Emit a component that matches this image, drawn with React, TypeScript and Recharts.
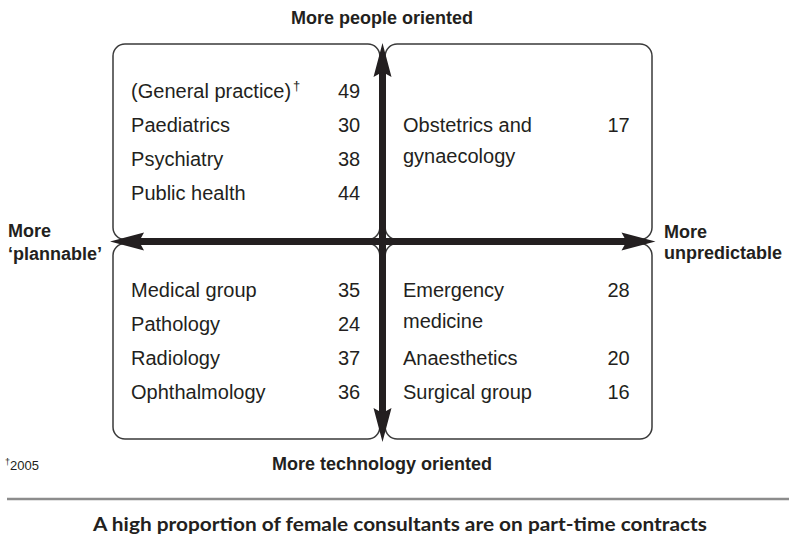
import React from "react";
import { ScatterChart, Scatter, XAxis, YAxis, ReferenceArea, ReferenceLine } from "recharts";

// Share of female consultants on part-time contracts (%), by specialty quadrant
const peoplePlannableNames = ["(General practice)†", "Paediatrics", "Psychiatry", "Public health"];
const peoplePlannableValues = [49, 30, 38, 44];
const peopleUnpredictableNames = ["Obstetrics and\ngynaecology"];
const peopleUnpredictableValues = [17];
const techPlannableNames = ["Medical group", "Pathology", "Radiology", "Ophthalmology"];
const techPlannableValues = [35, 24, 37, 36];
const techUnpredictableNames = ["Emergency\nmedicine", "Anaesthetics", "Surgical group"];
const techUnpredictableValues = [28, 20, 16];

const W = 789;
const H = 541;
const INK = "#231f20";
const SANS = "Liberation Sans";

// layout in the diagram's own units: x and y both run -1..1 across the box grid
const GAP = 0.01;
const ROW = 0.172;
const WRAP = 0.155; // wrapped lines of one label sit a bit tighter
const LABEL_X = { left: -0.933, right: 0.076 };
const NUM_X = { left: -0.083, right: 0.917 };

type Pt = { x: number; y: number; text: string };

function buildQuadrant(names: string[], values: number[], side: "left" | "right", half: "top" | "bottom") {
  const lines = names.map((n) => n.split("\n"));
  const slots = lines.reduce((s, l) => s + l.length, 0);
  const mid = half === "top" ? (1 + GAP) / 2 : -(1 + GAP) / 2;
  const labels: Pt[] = [];
  const nums: Pt[] = [];
  let slot = 0;
  lines.forEach((ls, i) => {
    const y0 = mid + ((slots - 1) / 2 - slot) * ROW;
    ls.forEach((line, j) => {
      labels.push({ x: LABEL_X[side], y: y0 - j * WRAP, text: line });
    });
    nums.push({ x: NUM_X[side], y: y0, text: String(values[i]) });
    slot += ls.length;
  });
  return { labels, nums };
}

const quadrants = [
  buildQuadrant(peoplePlannableNames, peoplePlannableValues, "left", "top"),
  buildQuadrant(peopleUnpredictableNames, peopleUnpredictableValues, "right", "top"),
  buildQuadrant(techPlannableNames, techPlannableValues, "left", "bottom"),
  buildQuadrant(techUnpredictableNames, techUnpredictableValues, "right", "bottom"),
];

const boxes = [
  { x1: -1, x2: -GAP, y1: GAP, y2: 1 },
  { x1: GAP, x2: 1, y1: GAP, y2: 1 },
  { x1: -1, x2: -GAP, y1: -1, y2: -GAP },
  { x1: GAP, x2: 1, y1: -1, y2: -GAP },
];

const LabelShape = (p: any) => {
  const t: string = p.payload.text;
  const dagger = t.endsWith("†");
  return (
    <text x={p.cx} y={p.cy} dy="0.36em" style={{ fontFamily: SANS, fontSize: 20 }} fill={INK}>
      {dagger ? t.slice(0, -1) : t}
      {dagger && (
        <tspan style={{ fontSize: 13 }} dx={2} dy={-8}>†</tspan>
      )}
    </text>
  );
};

const NumShape = (p: any) => (
  <text x={p.cx} y={p.cy} dy="0.36em" textAnchor="end" style={{ fontFamily: SANS, fontSize: 20 }} fill={INK}>
    {p.payload.text}
  </text>
);

const BoxShape = (p: any) => (
  <rect x={p.x} y={p.y} width={p.width} height={p.height} rx={12} ry={12} fill="none" stroke="#3a3a3a" strokeWidth={1.5} />
);

const Arrow = (p: any) => {
  const { x1, y1, x2, y2 } = p;
  const len = Math.hypot(x2 - x1, y2 - y1);
  const ux = (x2 - x1) / len;
  const uy = (y2 - y1) / len;
  const nx = -uy;
  const ny = ux;
  const L = 34, HW = 9, BACK = 5;
  const head = (tx: number, ty: number, s: number) => {
    const bx = tx - s * ux * L, by = ty - s * uy * L;
    const cx = tx - s * ux * (L - BACK), cy = ty - s * uy * (L - BACK);
    return `${tx},${ty} ${bx + nx * HW},${by + ny * HW} ${cx},${cy} ${bx - nx * HW},${by - ny * HW}`;
  };
  return (
    <g>
      <line
        x1={x1 + ux * (L - BACK - 1)}
        y1={y1 + uy * (L - BACK - 1)}
        x2={x2 - ux * (L - BACK - 1)}
        y2={y2 - uy * (L - BACK - 1)}
        stroke={INK}
        strokeWidth={7}
      />
      <polygon points={head(x2, y2, 1)} fill={INK} />
      <polygon points={head(x1, y1, -1)} fill={INK} />
    </g>
  );
};

const bold = { fontFamily: SANS, fontWeight: 700, fontSize: 18 } as const;

export default function App() {
  return (
    <div style={{ position: "absolute", left: 0, top: 0, width: W, height: H, background: "#fff" }}>
      <ScatterChart width={W} height={H} margin={{ top: 44, right: 137, bottom: 102, left: 113 }}>
        <XAxis type="number" dataKey="x" domain={[-1, 1]} hide />
        <YAxis type="number" dataKey="y" domain={[-1, 1]} hide />
        {boxes.map((b, i) => (
          <ReferenceArea key={i} {...b} shape={BoxShape} ifOverflow="visible" />
        ))}
        <ReferenceLine segment={[{ x: -1.011, y: 0 }, { x: 1.013, y: 0 }]} shape={Arrow} ifOverflow="visible" />
        <ReferenceLine segment={[{ x: 0, y: -1.015 }, { x: 0, y: 1.005 }]} shape={Arrow} ifOverflow="visible" />
        {quadrants.map((q, i) => (
          <Scatter key={"l" + i} data={q.labels} shape={LabelShape} isAnimationActive={false} />
        ))}
        {quadrants.map((q, i) => (
          <Scatter key={"n" + i} data={q.nums} shape={NumShape} isAnimationActive={false} />
        ))}
        <g fill={INK}>
          <text x={382} y={24} textAnchor="middle" style={bold}>More people oriented</text>
          <text x={382} y={470} textAnchor="middle" style={bold}>More technology oriented</text>
          <text x={8} y={237} style={bold}>More</text>
          <text x={8} y={260} style={bold}>‘plannable’</text>
          <text x={664} y={238} style={bold}>More</text>
          <text x={664} y={259} style={bold}>unpredictable</text>
        </g>
        <text x={5} y={470} style={{ fontFamily: SANS, fontSize: 13 }} fill={INK}>
          <tspan style={{ fontSize: 9 }} dy={-5}>†</tspan>
          <tspan dy={5}>2005</tspan>
        </text>
        <line x1={7} y1={499} x2={W} y2={499} stroke="#8c8c8c" strokeWidth={2.5} />
        <text
          x={93}
          y={531}
          textLength={614}
          lengthAdjust="spacingAndGlyphs"
          style={{ fontFamily: "Lato", fontWeight: 700, fontSize: 18 }}
          fill={INK}
        >
          A high proportion of female consultants are on part-time contracts
        </text>
      </ScatterChart>
    </div>
  );
}
